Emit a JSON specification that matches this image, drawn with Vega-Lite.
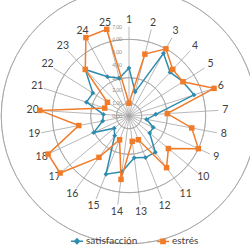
{
  "$schema": "https://vega.github.io/schema/vega-lite/v6.json",
  "width": 230,
  "height": 230,
  "autosize": {"type": "none"},
  "padding": {"left": 14, "top": 1, "right": 6, "bottom": 16},
  "background": "white",
  "config": {"view": {"stroke": null}, "font": "Lato"},
  "datasets": {
    "radar": [
      {"cat": 1, "serie": "satisfacción", "valor": 3.75},
      {"cat": 2, "serie": "satisfacción", "valor": 1.95},
      {"cat": 3, "serie": "satisfacción", "valor": 5.6},
      {"cat": 4, "serie": "satisfacción", "valor": 4.7},
      {"cat": 5, "serie": "satisfacción", "valor": 5.0},
      {"cat": 6, "serie": "satisfacción", "valor": 5.35},
      {"cat": 7, "serie": "satisfacción", "valor": 2.1},
      {"cat": 8, "serie": "satisfacción", "valor": 1.4},
      {"cat": 9, "serie": "satisfacción", "valor": 2.1},
      {"cat": 10, "serie": "satisfacción", "valor": 2.1},
      {"cat": 11, "serie": "satisfacción", "valor": 3.5},
      {"cat": 12, "serie": "satisfacción", "valor": 3.5},
      {"cat": 13, "serie": "satisfacción", "valor": 3.3},
      {"cat": 14, "serie": "satisfacción", "valor": 4.4},
      {"cat": 15, "serie": "satisfacción", "valor": 4.9},
      {"cat": 16, "serie": "satisfacción", "valor": 1.9},
      {"cat": 17, "serie": "satisfacción", "valor": 1.5},
      {"cat": 18, "serie": "satisfacción", "valor": 3.05},
      {"cat": 19, "serie": "satisfacción", "valor": 2.1},
      {"cat": 20, "serie": "satisfacción", "valor": 2.0},
      {"cat": 21, "serie": "satisfacción", "valor": 3.5},
      {"cat": 22, "serie": "satisfacción", "valor": 3.35},
      {"cat": 23, "serie": "satisfacción", "valor": 5.0},
      {"cat": 24, "serie": "satisfacción", "valor": 3.5},
      {"cat": 25, "serie": "satisfacción", "valor": 3.05},
      {"cat": 1, "serie": "estrés", "valor": 1.0},
      {"cat": 2, "serie": "estrés", "valor": 5.0},
      {"cat": 3, "serie": "estrés", "valor": 6.0},
      {"cat": 4, "serie": "estrés", "valor": 5.0},
      {"cat": 5, "serie": "estrés", "valor": 5.0},
      {"cat": 6, "serie": "estrés", "valor": 7.0},
      {"cat": 7, "serie": "estrés", "valor": 3.0},
      {"cat": 8, "serie": "estrés", "valor": 5.0},
      {"cat": 9, "serie": "estrés", "valor": 6.0},
      {"cat": 10, "serie": "estrés", "valor": 4.0},
      {"cat": 11, "serie": "estrés", "valor": 5.0},
      {"cat": 12, "serie": "estrés", "valor": 2.0},
      {"cat": 13, "serie": "estrés", "valor": 2.0},
      {"cat": 14, "serie": "estrés", "valor": 5.0},
      {"cat": 15, "serie": "estrés", "valor": 2.0},
      {"cat": 16, "serie": "estrés", "valor": 4.0},
      {"cat": 17, "serie": "estrés", "valor": 7.0},
      {"cat": 18, "serie": "estrés", "valor": 7.0},
      {"cat": 19, "serie": "estrés", "valor": 4.0},
      {"cat": 20, "serie": "estrés", "valor": 7.0},
      {"cat": 21, "serie": "estrés", "valor": 2.0},
      {"cat": 22, "serie": "estrés", "valor": 2.0},
      {"cat": 23, "serie": "estrés", "valor": 5.0},
      {"cat": 24, "serie": "estrés", "valor": 7.0},
      {"cat": 25, "serie": "estrés", "valor": 7.0}
    ],
    "niveles": [
      {"nivel": 0, "etiqueta": "0,00"},
      {"nivel": 1, "etiqueta": "1,00"},
      {"nivel": 2, "etiqueta": "2,00"},
      {"nivel": 3, "etiqueta": "3,00"},
      {"nivel": 4, "etiqueta": "4,00"},
      {"nivel": 5, "etiqueta": "5,00"},
      {"nivel": 6, "etiqueta": "6,00"},
      {"nivel": 7, "etiqueta": "7,00"}
    ]
  },
  "data": {"name": "radar"},
  "transform": [
    {"calculate": "(datum.cat - 1) * 2 * PI / 25", "as": "a"},
    {"calculate": "datum.valor * sin(datum.a)", "as": "px"},
    {"calculate": "datum.valor * cos(datum.a)", "as": "py"},
    {"calculate": "0", "as": "o"},
    {"calculate": "7 * sin(datum.a)", "as": "sx"},
    {"calculate": "7 * cos(datum.a)", "as": "sy"},
    {"calculate": "7.55 * sin(datum.a)", "as": "lx"},
    {"calculate": "7.55 * cos(datum.a)", "as": "ly"}
  ],
  "layer": [
    {
      "data": {"name": "niveles"},
      "transform": [{"filter": "datum.nivel > 0"}],
      "mark": {"type": "arc", "theta": 0, "theta2": 6.2832, "fill": null, "fillOpacity": 0, "stroke": "#a6a6a6", "strokeWidth": 0.8},
      "encoding": {
        "radius": {"field": "nivel", "type": "quantitative", "scale": {"type": "linear", "domain": [0, 7], "range": [0, 89.444]}, "legend": null}
      }
    },
    {
      "transform": [{"filter": "datum.serie === 'estrés'"}],
      "mark": {"type": "rule", "stroke": "#a6a6a6", "strokeWidth": 0.8},
      "encoding": {
        "x": {"field": "o", "type": "quantitative", "scale": {"domain": [-9, 9], "nice": false, "zero": false}, "axis": null},
        "y": {"field": "o", "type": "quantitative", "scale": {"domain": [-9, 9], "nice": false, "zero": false}, "axis": null},
        "x2": {"field": "sx"},
        "y2": {"field": "sy"}
      }
    },
    {
      "data": {"name": "niveles"},
      "mark": {"type": "text", "align": "right", "baseline": "middle", "dx": -7, "fontSize": 5, "fill": "#8c8c8c"},
      "encoding": {
        "x": {"datum": 0, "type": "quantitative"},
        "y": {"field": "nivel", "type": "quantitative"},
        "text": {"field": "etiqueta", "type": "nominal"}
      }
    },
    {
      "transform": [{"filter": "datum.serie === 'estrés'"}],
      "mark": {"type": "text", "align": "center", "baseline": "middle", "fontSize": 10.5, "fill": "#404040"},
      "encoding": {
        "x": {"field": "lx", "type": "quantitative"},
        "y": {"field": "ly", "type": "quantitative"},
        "text": {"field": "cat", "type": "nominal"}
      }
    },
    {
      "transform": [{"filter": "datum.serie === 'satisfacción'"}],
      "mark": {"type": "line", "interpolate": "linear-closed", "strokeWidth": 1.5},
      "encoding": {
        "x": {"field": "px", "type": "quantitative"},
        "y": {"field": "py", "type": "quantitative"},
        "order": {"field": "cat", "type": "quantitative"},
        "color": {
          "field": "serie", "type": "nominal",
          "scale": {"domain": ["satisfacción", "estrés"], "range": ["#2E8CAE", "#F07C2A"]},
          "legend": {
            "title": null, "orient": "none", "legendX": 56, "legendY": 233, "direction": "horizontal",
            "symbolSize": 144, "symbolStrokeWidth": 1.5, "labelFont": "Lato", "labelFontSize": 10,
            "labelColor": "#404040", "labelOffset": 2, "columnPadding": 16,
            "encode": {"symbols": {"update": {
              "shape": {"signal": "datum.value === 'satisfacción' ? 'M-1,0H1M-0.4,0L0,-0.4L0.4,0L0,0.4Z' : 'M-1,0H1M-0.35,-0.35H0.35V0.35H-0.35Z'"},
              "fill": {"signal": "scale('color', datum.value)"},
              "stroke": {"signal": "scale('color', datum.value)"}
            }}}
          }
        }
      }
    },
    {
      "transform": [{"filter": "datum.serie === 'satisfacción'"}],
      "mark": {"type": "point", "filled": true, "shape": "diamond", "size": 24, "opacity": 1, "color": "#2E8CAE"},
      "encoding": {
        "x": {"field": "px", "type": "quantitative"},
        "y": {"field": "py", "type": "quantitative"}
      }
    },
    {
      "transform": [{"filter": "datum.serie === 'estrés'"}],
      "mark": {"type": "line", "interpolate": "linear-closed", "strokeWidth": 1.5},
      "encoding": {
        "x": {"field": "px", "type": "quantitative"},
        "y": {"field": "py", "type": "quantitative"},
        "order": {"field": "cat", "type": "quantitative"},
        "color": {"field": "serie", "type": "nominal"}
      }
    },
    {
      "transform": [{"filter": "datum.serie === 'estrés'"}],
      "mark": {"type": "point", "filled": true, "shape": "square", "size": 30, "opacity": 1, "color": "#F07C2A"},
      "encoding": {
        "x": {"field": "px", "type": "quantitative"},
        "y": {"field": "py", "type": "quantitative"}
      }
    }
  ]
}
